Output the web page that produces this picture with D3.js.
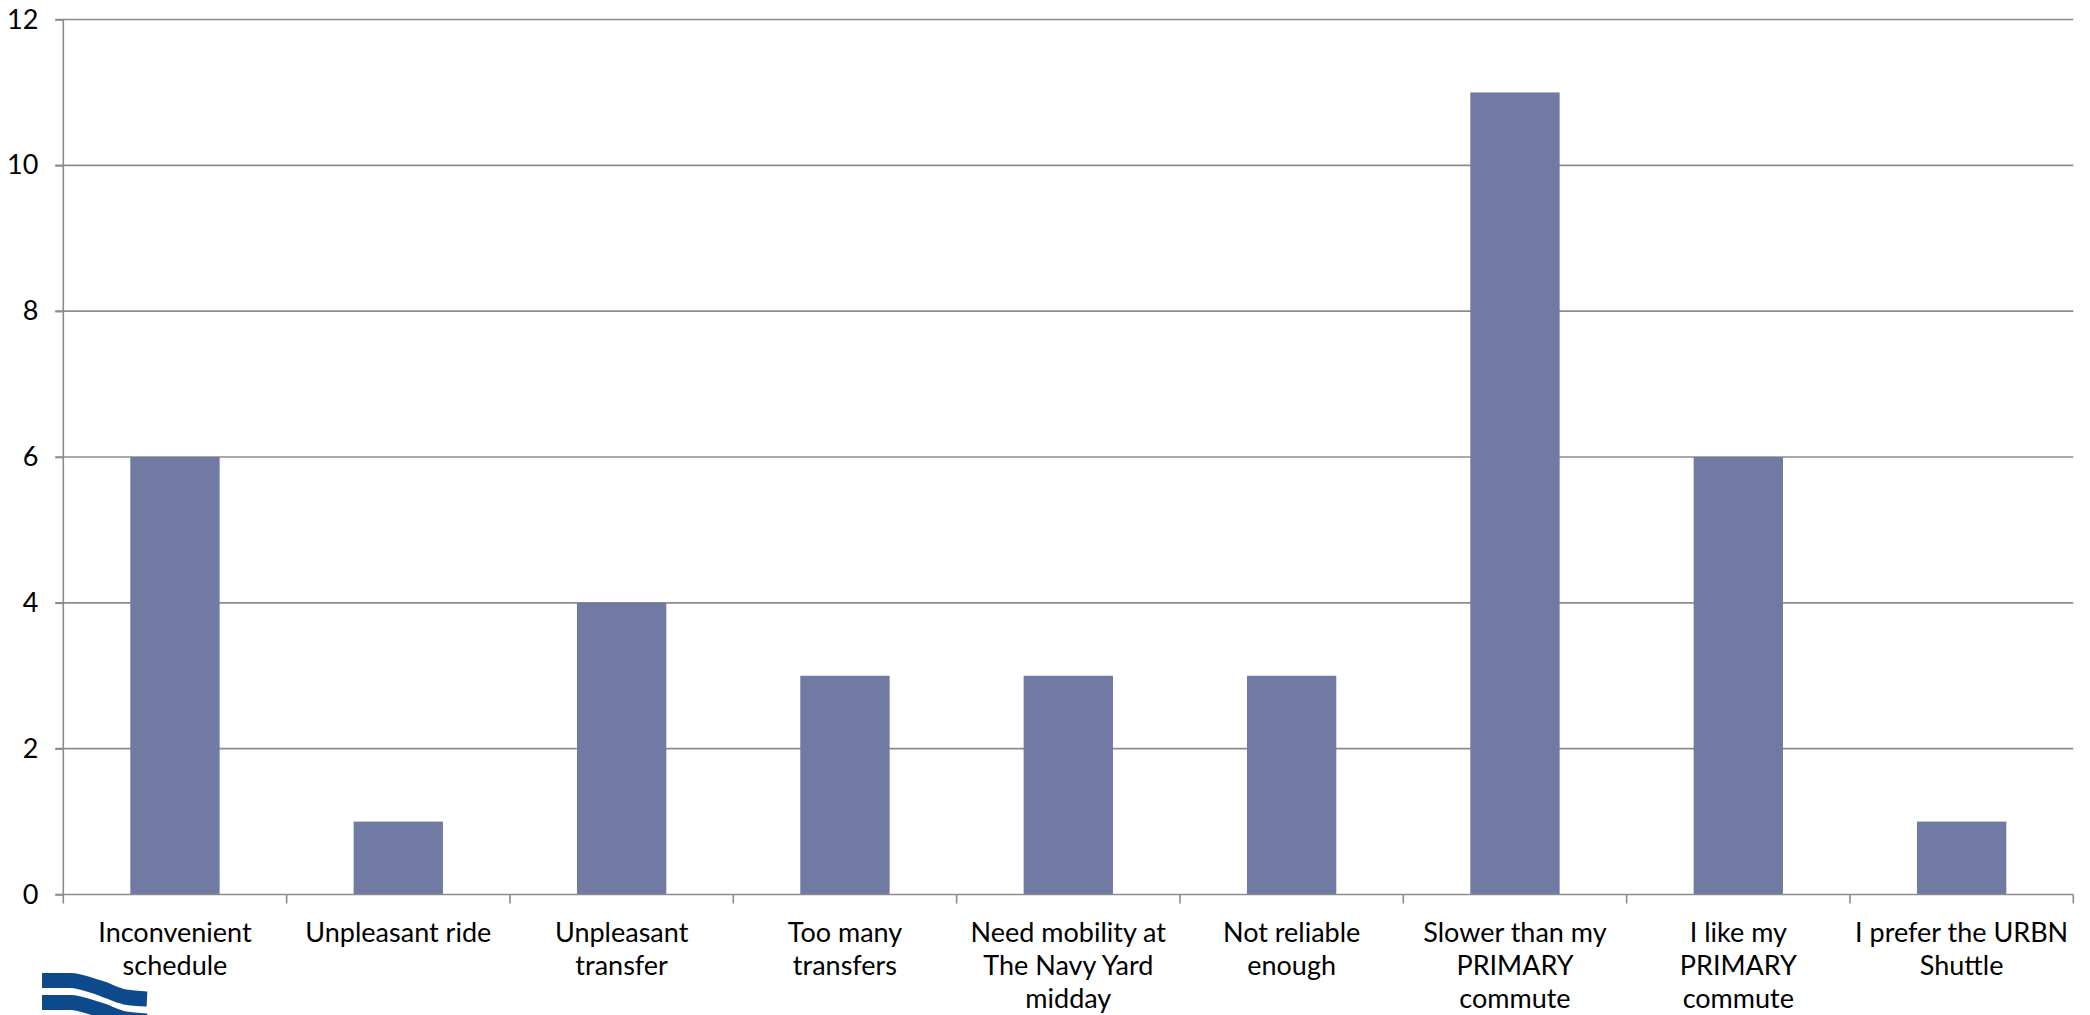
<!DOCTYPE html>
<html>
<head>
<meta charset="utf-8">
<script src="https://cdn.jsdelivr.net/npm/d3@7"></script>
<style>
  html, body { margin: 0; padding: 0; background: #fff; overflow: hidden; }
  svg { display: block; }
</style>
</head>
<body>
<svg id="chart" width="2090" height="1015"></svg>
<script>
// ---- Data ----
const categories = [
  "Inconvenient schedule",
  "Unpleasant ride",
  "Unpleasant transfer",
  "Too many transfers",
  "Need mobility at The Navy Yard midday",
  "Not reliable enough",
  "Slower than my PRIMARY commute",
  "I like my PRIMARY commute",
  "I prefer the URBN Shuttle"
];
const categoryLines = [
  ["Inconvenient", "schedule"],
  ["Unpleasant ride"],
  ["Unpleasant", "transfer"],
  ["Too many", "transfers"],
  ["Need mobility at", "The Navy Yard", "midday"],
  ["Not reliable", "enough"],
  ["Slower than my", "PRIMARY", "commute"],
  ["I like my", "PRIMARY", "commute"],
  ["I prefer the URBN", "Shuttle"]
];
const values = [6, 1, 4, 3, 3, 3, 11, 6, 1];
const yTicks = [0, 2, 4, 6, 8, 10, 12];

// ---- Layout ----
const plotLeft = 63.3, plotRight = 2073.3, plotTop = 19.5, plotBottom = 894.5;
const font = "Lato, 'Open Sans', sans-serif";
const fontSize = 27;
const gridColor = "#8c8c8c";
const barColor = "#707aa3";

const svg = d3.select("#chart");

const x = d3.scaleBand().domain(categories).range([plotLeft, plotRight])
  .paddingInner(0.6).paddingOuter(0.3);
const y = d3.scaleLinear().domain([0, 12]).range([plotBottom, plotTop]);

// gridlines
svg.append("g").selectAll("line").data(yTicks.filter(d => d !== 0)).join("line")
  .attr("x1", plotLeft - 8).attr("x2", plotRight)
  .attr("y1", d => y(d)).attr("y2", d => y(d))
  .attr("stroke", gridColor).attr("stroke-width", 1.6);

// bars
svg.append("g").selectAll("rect").data(values).join("rect")
  .attr("x", (d, i) => x(categories[i]))
  .attr("width", x.bandwidth())
  .attr("y", d => y(d))
  .attr("height", d => y(0) - y(d))
  .attr("fill", barColor);

// y axis
const yAxis = d3.axisLeft(y).tickValues(yTicks).tickSize(8).tickPadding(17);
const gy = svg.append("g").attr("transform", `translate(${plotLeft},0)`).call(yAxis);
gy.select(".domain").attr("stroke", gridColor).attr("stroke-width", 1.6)
  .attr("d", `M0,${plotTop}V${plotBottom}`);
gy.selectAll(".tick line").attr("stroke", gridColor).attr("stroke-width", 1.6);
gy.selectAll(".tick text").attr("font-family", font).attr("font-size", fontSize)
  .attr("fill", "#000");

// x axis baseline + ticks at category boundaries
const step = x.step();
const boundaries = d3.range(categories.length + 1).map(i => plotLeft + i * step);
svg.append("line").attr("x1", plotLeft - 8).attr("x2", plotRight)
  .attr("y1", plotBottom).attr("y2", plotBottom)
  .attr("stroke", gridColor).attr("stroke-width", 1.6);
svg.append("g").selectAll("line").data(boundaries).join("line")
  .attr("x1", d => d).attr("x2", d => d)
  .attr("y1", plotBottom).attr("y2", plotBottom + 9)
  .attr("stroke", gridColor).attr("stroke-width", 1.6);

// x labels
const lab = svg.append("g").selectAll("text").data(categories).join("text")
  .attr("font-family", font).attr("font-size", fontSize).attr("fill", "#000")
  .attr("text-anchor", "middle")
  .attr("transform", d => `translate(${x(d) + x.bandwidth() / 2},${plotBottom + 47})`);
lab.selectAll("tspan").data((d, i) => categoryLines[i]).join("tspan")
  .attr("x", 0).attr("dy", (d, i) => i === 0 ? 0 : 33).text(d => d);

// logo (decorative waves)
const logo = svg.append("g");
const wave = d3.line().curve(d3.curveMonotoneX);
const wavePts = [[42, 980.5], [70, 980.5], [100, 988], [125, 997], [147, 999]];
[0, 22, 44].forEach(off => {
  logo.append("path")
    .attr("d", wave(wavePts.map(p => [p[0], p[1] + off])))
    .attr("fill", "none").attr("stroke", "#0d4a8c").attr("stroke-width", 15);
});
</script>
</body>
</html>
